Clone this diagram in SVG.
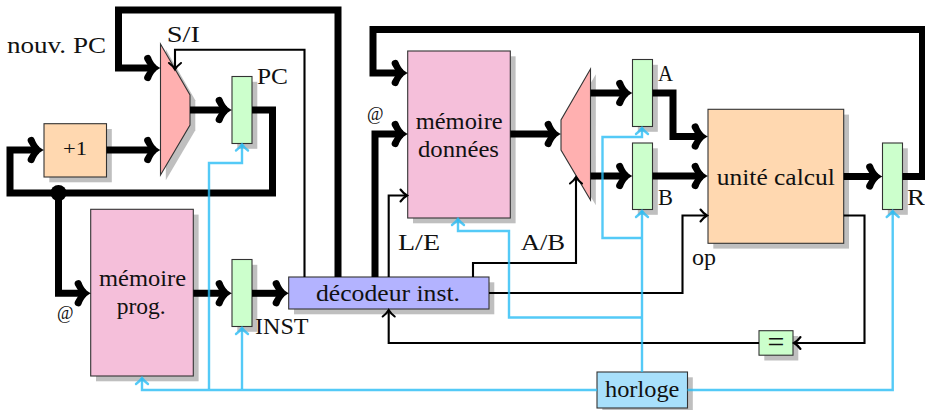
<svg xmlns="http://www.w3.org/2000/svg" width="925" height="410" viewBox="0 0 925 410">
<style>
text{font-family:"Liberation Serif","Times New Roman",serif;font-size:23.5px;fill:#111;text-anchor:start}
.c{text-anchor:middle}
.sh{fill:#bfbfbf}
.b{stroke:#333;stroke-width:1.1}
.pink{fill:#f5bfda}.org{fill:#ffd8b0}.grn{fill:#ccffcc}.pur{fill:#b3b3ff}.mux{fill:#ffb0b0}.clk{fill:#a8e0fb}
.thick,.thin,.blue{fill:none;stroke-linejoin:miter}
.thick{stroke:#000;stroke-width:7}
.thin{stroke:#000;stroke-width:2.1}
.blue{stroke:#29bdf5;stroke-opacity:.8;stroke-width:2.4}
.ta{marker-end:url(#ah)}.tn{marker-end:url(#an)}.bl{marker-end:url(#ab)}
</style>
<defs>
<marker id="ah" markerUnits="userSpaceOnUse" orient="auto" refX="-5" refY="0" markerWidth="30" markerHeight="30" overflow="visible"><path fill="#000" d="M0,0C-4,-1.5 -8,-6 -9.5,-11A3.5,3.5 0 0 0 -16,-8C-14,-5 -13,-2.5 -10.5,0C-13,2.5 -14,5 -16,8A3.5,3.5 0 0 0 -9.5,11C-8,6 -4,1.5 0,0Z"/></marker>
<marker id="an" markerUnits="userSpaceOnUse" orient="auto" refX="0" refY="0" markerWidth="20" markerHeight="20" overflow="visible"><path fill="none" stroke="#000" stroke-width="2.1" stroke-linecap="round" d="M-6.5,-6Q-3.5,-2 0,0Q-3.5,2 -6.5,6"/></marker>
<marker id="ab" markerUnits="userSpaceOnUse" orient="auto" refX="0" refY="0" markerWidth="20" markerHeight="20" overflow="visible"><path fill="none" stroke="#29bdf5" stroke-opacity=".8" stroke-width="2.4" stroke-linecap="round" d="M-6,-6Q-3,-2 0,0Q-3,2 -6,6"/></marker>
</defs>

<g id="inc"><rect class="sh" x="49.3" y="129" width="62.5" height="53.3"/><rect class="org b" x="44" y="123.7" width="62.5" height="53.3"/><text class="c" x="75" y="155" style="font-size:19.5px" textLength="24" lengthAdjust="spacingAndGlyphs">+1</text></g>
<g id="mux-pc"><polygon class="sh" points="165.8,49.3 195.3,100.3 195.3,130.3 165.8,180.3"/><polygon class="mux b" points="160.5,44 190,95 190,125 160.5,175"/></g>
<g id="reg-pc"><rect class="sh" x="237.3" y="81.8" width="20" height="67"/><rect class="grn b" x="232" y="76.5" width="20" height="67"/><text x="257" y="84" textLength="31" lengthAdjust="spacingAndGlyphs">PC</text></g>
<g id="mem-prog"><rect class="sh" x="96" y="214.6" width="102.6" height="166.7"/><rect class="pink b" x="90.7" y="209.3" width="102.6" height="166.7"/><text class="c" x="142.5" y="285.7" textLength="87" lengthAdjust="spacingAndGlyphs">mémoire</text><text class="c" x="141.2" y="314" textLength="49" lengthAdjust="spacingAndGlyphs">prog.</text></g>
<g id="reg-inst"><rect class="sh" x="237.3" y="264.8" width="20" height="67"/><rect class="grn b" x="232" y="259.5" width="20" height="67"/><text x="255" y="334" textLength="53.5" lengthAdjust="spacingAndGlyphs">INST</text></g>
<g id="decoder"><rect class="sh" x="294" y="282.3" width="200.3" height="32"/><rect class="pur b" x="288.7" y="277" width="200.3" height="32"/><text class="c" x="388" y="300.7" textLength="144" lengthAdjust="spacingAndGlyphs">décodeur inst.</text></g>
<g id="mem-data"><rect class="sh" x="413" y="56.3" width="102.6" height="167"/><rect class="pink b" x="407.7" y="51" width="102.6" height="167"/><text class="c" x="459.2" y="129" textLength="87" lengthAdjust="spacingAndGlyphs">mémoire</text><text class="c" x="458.5" y="156.7" textLength="81" lengthAdjust="spacingAndGlyphs">données</text></g>
<g id="mux-data"><polygon class="sh" points="595.8,74.3 566.3,125.3 566.3,155.3 595.8,205.3"/><polygon class="mux b" points="590.5,69 561,120 561,150 590.5,200"/></g>
<g id="reg-a"><rect class="sh" x="637.8" y="64.8" width="20" height="67"/><rect class="grn b" x="632.5" y="59.5" width="20" height="67"/><text x="658" y="80.7" textLength="15" lengthAdjust="spacingAndGlyphs">A</text></g>
<g id="reg-b"><rect class="sh" x="637.8" y="148.3" width="20" height="66.5"/><rect class="grn b" x="632.5" y="143" width="20" height="66.5"/><text x="658" y="205" textLength="15" lengthAdjust="spacingAndGlyphs">B</text></g>
<g id="alu"><rect class="sh" x="713.3" y="114.6" width="135.7" height="134"/><rect class="org b" x="708" y="109.3" width="135.7" height="134"/><text class="c" x="775.8" y="185" textLength="118" lengthAdjust="spacingAndGlyphs">unité calcul</text></g>
<g id="reg-r"><rect class="sh" x="887.8" y="148.3" width="20" height="66.5"/><rect class="grn b" x="882.5" y="143" width="20" height="66.5"/><text x="907" y="205" textLength="18" lengthAdjust="spacingAndGlyphs">R</text></g>
<g id="equal"><rect class="sh" x="764.3" y="336" width="34" height="24.5"/><rect class="grn b" x="759" y="330.7" width="34" height="24.5"/><text class="c" x="776" y="351.5" style="font-size:30px">=</text></g>
<g id="clock"><rect class="sh" x="602.3" y="377.3" width="90.5" height="36"/><rect class="clk b" x="597" y="372" width="90.5" height="36"/><text class="c" x="642.2" y="396.7" textLength="74.5" lengthAdjust="spacingAndGlyphs">horloge</text></g>

<g id="labels">
<text x="7" y="53" textLength="99" lengthAdjust="spacingAndGlyphs">nouv. PC</text>
<text x="166.7" y="42" textLength="33.3" lengthAdjust="spacingAndGlyphs">S/I</text>
<text x="57" y="319" style="font-size:18px" textLength="16.5" lengthAdjust="spacingAndGlyphs">@</text>
<text x="367" y="120" style="font-size:18px" textLength="16.5" lengthAdjust="spacingAndGlyphs">@</text>
<text x="398" y="250" textLength="42" lengthAdjust="spacingAndGlyphs">L/E</text>
<text x="520.7" y="249.5" textLength="44.5" lengthAdjust="spacingAndGlyphs">A/B</text>
<text x="692" y="265" textLength="24" lengthAdjust="spacingAndGlyphs">op</text>
</g>

<g id="connectors">
<path class="thick ta" d="M338,277V10H118.5V68H155.5"/>
<path class="thick ta" d="M106.5,150H155.5"/>
<path class="thick ta" d="M190,110H227"/>
<path class="thick ta" d="M252,110H272.5V193H10V150H39"/>
<path class="thick ta" d="M58.5,193V293.3H86"/>
<circle cx="58.5" cy="193" r="8"/>
<path class="thick ta" d="M193.3,293.3H227"/>
<path class="thick ta" d="M252,293.3H284"/>
<path class="thick ta" d="M375,277V134H403"/>
<path class="thick ta" d="M510.3,134H556"/>
<path class="thick ta" d="M590.5,93H627.5"/>
<path class="thick ta" d="M590.5,176H627.5"/>
<path class="thick ta" d="M652.5,93H673V136.5H703"/>
<path class="thick ta" d="M652.5,176H703"/>
<path class="thick ta" d="M843.7,176.5H877.5"/>
<path class="thick ta" d="M902.5,176.5H922.5V29.5H373V73H403"/>
<path class="thin tn" d="M304.5,277V49.7H175V69.5"/>
<path class="thin tn" d="M388.7,277V195.5H407"/>
<path class="thin tn" d="M473,277V263H576V177"/>
<path class="thin tn" d="M489,293H682.5V215.5H707"/>
<path class="thin tn" d="M843.7,215.5H864.5V343H794"/>
<path class="thin tn" d="M759,343H388.7V310"/>
<path class="blue bl" d="M597,390H142V378"/>
<path class="blue bl" d="M209,389V163H242V144.5"/>
<path class="blue bl" d="M242,389V328"/>
<path class="blue bl" d="M642,372V211"/>
<path class="blue bl" d="M641,238H602.5V137H642V128"/>
<path class="blue bl" d="M641,317.5H509V231H458V219"/>
<path class="blue bl" d="M687.5,390H892.7V211"/>
</g>
</svg>
